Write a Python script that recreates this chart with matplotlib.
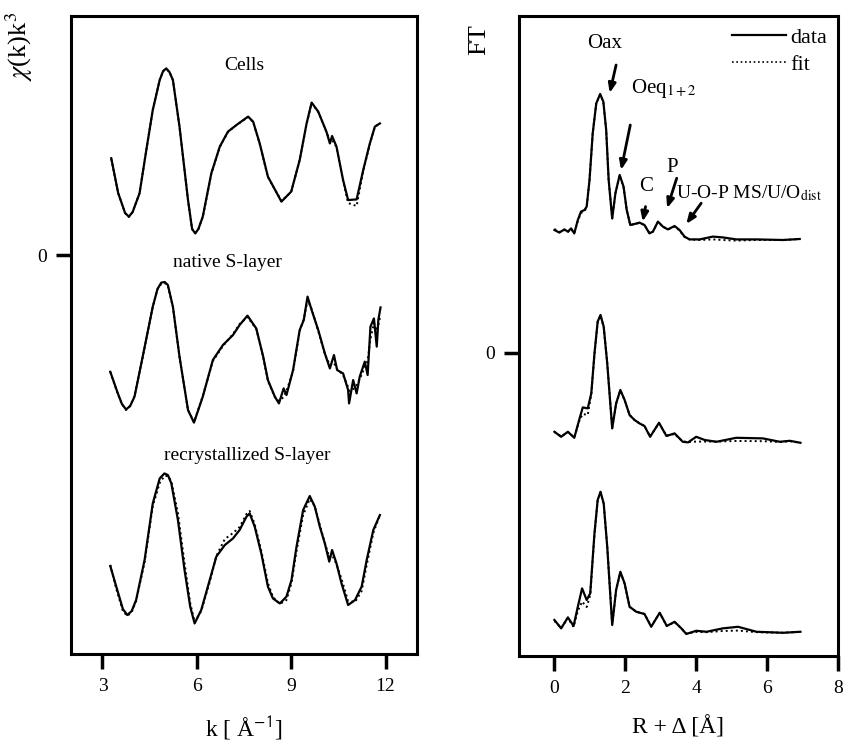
import matplotlib
matplotlib.use('Agg')
import matplotlib.pyplot as plt
from matplotlib.lines import Line2D

plt.rcParams['font.family'] = ['Liberation Serif', 'DejaVu Serif']
plt.rcParams['mathtext.fontset'] = 'stix'

# ---- EXAFS chi(k)k^3 (left) ----
k_cells = [3.28, 3.5, 3.72, 3.84, 3.96, 4.18, 4.4, 4.6, 4.82, 4.93, 5.03, 5.13, 5.24, 5.45, 5.72,
           5.85, 5.95, 6.05, 6.19, 6.46, 6.73, 6.99, 7.26, 7.63, 7.79, 8.0, 8.26, 8.69, 9.0, 9.27,
           9.49, 9.65, 9.86, 10.12, 10.23, 10.30, 10.44, 10.65, 10.81, 11.08, 11.29, 11.5, 11.66, 11.82]
chi_cells = [-0.16, -1.9, -2.9, -3.08, -2.85, -1.91, 0.3, 2.25, 3.75, 4.2, 4.33, 4.15, 3.75, 1.42, -2.25,
             -3.7, -3.92, -3.7, -3.08, -0.92, 0.42, 1.17, 1.5, 1.92, 1.67, 0.58, -1.08, -2.33, -1.83, -0.25,
             1.58, 2.62, 2.17, 1.17, 0.58, 0.95, 0.42, -1.25, -2.25, -2.22, -0.75, 0.58, 1.42, 1.58]
fit_cells = [-0.2, -1.9, -2.9, -3.1, -2.85, -1.9, 0.3, 2.25, 3.75, 4.2, 4.3, 4.15, 3.75, 1.4, -2.25,
             -3.7, -3.9, -3.7, -3.1, -0.95, 0.4, 1.15, 1.5, 1.9, 1.65, 0.55, -1.1, -2.3, -1.85, -0.25,
             1.55, 2.6, 2.15, 1.15, 0.7, 0.75, 0.4, -1.3, -2.4, -2.55, -0.8, 0.55, 1.4, 1.6]

k_native = [3.25, 3.49, 3.62, 3.75, 3.88, 4.02, 4.28, 4.6, 4.75, 4.87, 4.98, 5.08, 5.24, 5.45, 5.72,
            5.91, 6.19, 6.51, 6.83, 7.15, 7.36, 7.61, 7.89, 8.11, 8.26, 8.48, 8.61, 8.76, 8.85, 9.06,
            9.27, 9.40, 9.52, 9.65, 9.86, 10.07, 10.23, 10.36, 10.46, 10.65, 10.81, 10.84, 10.97, 11.08,
            11.18, 11.34, 11.43, 11.52, 11.63, 11.72, 11.77, 11.84]
chi_native = [-0.84, -1.92, -2.45, -2.72, -2.55, -2.08, -0.08, 2.42, 3.3, 3.62, 3.65, 3.5, 2.42, -0.08, -2.75,
              -3.38, -2.08, -0.25, 0.5, 1.0, 1.5, 1.97, 1.33, -0.08, -1.25, -2.08, -2.42, -1.67, -2.0, -0.75,
              1.25, 1.75, 2.92, 2.25, 1.25, 0.08, -0.67, 0.0, -0.75, -0.92, -1.75, -2.42, -1.25, -1.92,
              -1.08, -0.33, -1.0, 1.42, 1.83, 0.42, 1.75, 2.38]
fit_native = [-0.85, -1.95, -2.45, -2.75, -2.55, -2.05, -0.1, 2.4, 3.3, 3.55, 3.6, 3.45, 2.4, -0.1, -2.75,
              -3.35, -2.05, -0.3, 0.45, 1.05, 1.55, 1.9, 1.3, -0.1, -1.3, -2.1, -2.3, -2.1, -1.8, -0.8,
              1.2, 1.8, 2.75, 2.3, 1.2, 0.05, -0.5, -0.4, -0.7, -1.0, -1.6, -1.8, -1.7, -1.5,
              -1.2, -0.6, -0.3, 0.8, 1.6, 1.2, 1.5, 2.0]

k_recr = [3.25, 3.44, 3.65, 3.79, 3.93, 4.07, 4.34, 4.6, 4.82, 4.97, 5.08, 5.19, 5.4, 5.61, 5.79,
          5.93, 6.14, 6.41, 6.62, 6.89, 7.15, 7.36, 7.58, 7.68, 7.84, 8.05, 8.26, 8.42, 8.64, 8.85,
          9.01, 9.17, 9.38, 9.59, 9.75, 9.91, 10.07, 10.21, 10.30, 10.44, 10.6, 10.81, 11.03, 11.24,
          11.40, 11.61, 11.82]
chi_recr = [-1.05, -2.08, -3.2, -3.5, -3.3, -2.75, -0.75, 2.08, 3.33, 3.58, 3.5, 3.08, 1.25, -1.25, -3.08,
            -3.92, -3.25, -1.75, -0.58, 0.0, 0.33, 0.75, 1.42, 1.58, 0.92, -0.42, -2.08, -2.67, -2.92, -2.58,
            -1.75, -0.08, 1.75, 2.45, 1.92, 0.92, 0.08, -0.83, -0.25, -0.92, -1.92, -3.0, -2.75, -2.08,
            -0.75, 0.75, 1.5]
fit_recr = [-1.0, -2.2, -3.3, -3.55, -3.35, -2.8, -0.85, 1.95, 3.1, 3.45, 3.45, 3.2, 1.6, -0.9, -2.9,
            -3.85, -3.3, -1.85, -0.55, 0.3, 0.6, 0.9, 1.55, 1.7, 1.05, -0.3, -1.9, -2.6, -2.95, -2.75,
            -1.9, -0.3, 1.5, 2.3, 1.95, 1.0, 0.1, -0.6, -0.5, -0.95, -1.7, -2.8, -2.85, -2.3,
            -1.0, 0.6, 1.5]

chi_offsets = [5.0, -5.0, -14.5]
chi_labels = ['Cells', 'native S-layer', 'recrystallized S-layer']

# ---- Fourier transforms (right) ----
r_top = [0.0, 0.14, 0.28, 0.38, 0.47, 0.56, 0.66, 0.75, 0.85, 0.91, 0.99, 1.08, 1.18, 1.29, 1.38,
         1.46, 1.53, 1.63, 1.72, 1.84, 1.95, 2.04, 2.14, 2.26, 2.4, 2.54, 2.68, 2.78, 2.92, 3.06,
         3.2, 3.39, 3.53, 3.67, 3.81, 4.1, 4.47, 4.75, 5.13, 5.7, 6.45, 6.92]
ft_top = [0.55, 0.42, 0.58, 0.47, 0.63, 0.38, 1.05, 1.47, 1.55, 1.72, 3.05, 5.38, 6.88, 7.35, 6.97,
          5.55, 3.05, 1.13, 2.38, 3.3, 2.72, 1.55, 0.8, 0.85, 0.92, 0.8, 0.38, 0.47, 0.97, 0.72,
          0.58, 0.75, 0.55, 0.22, 0.08, 0.08, 0.22, 0.18, 0.08, 0.08, 0.05, 0.1]
fit_top = [0.6, 0.45, 0.55, 0.45, 0.6, 0.4, 1.0, 1.4, 1.5, 1.7, 3.05, 5.38, 6.88, 7.33, 6.95,
           5.55, 3.05, 1.13, 2.38, 3.28, 2.7, 1.55, 0.8, 0.85, 0.9, 0.8, 0.4, 0.47, 0.95, 0.72,
           0.58, 0.72, 0.52, 0.2, 0.08, 0.05, 0.08, 0.05, 0.02, 0.05, 0.05, 0.1]

r_mid = [0.0, 0.19, 0.38, 0.56, 0.71, 0.8, 0.94, 1.04, 1.13, 1.22, 1.3, 1.39, 1.49, 1.63, 1.74,
         1.86, 1.98, 2.12, 2.26, 2.4, 2.54, 2.7, 2.95, 3.16, 3.39, 3.62, 3.77, 4.0, 4.24, 4.57,
         5.13, 5.88, 6.36, 6.64, 6.94]
ft_mid = [0.61, 0.36, 0.61, 0.31, 1.28, 1.83, 1.78, 2.53, 4.53, 6.12, 6.45, 5.87, 4.03, 0.78, 2.03,
          2.7, 2.2, 1.45, 1.2, 1.03, 0.9, 0.36, 1.06, 0.4, 0.53, 0.11, 0.08, 0.36, 0.2, 0.11,
          0.31, 0.28, 0.11, 0.16, 0.06]
fit_mid = [0.6, 0.38, 0.6, 0.33, 1.2, 1.5, 1.45, 2.5, 4.5, 6.1, 6.42, 5.85, 4.03, 0.8, 2.0,
           2.68, 2.2, 1.45, 1.2, 1.03, 0.9, 0.38, 1.04, 0.42, 0.5, 0.13, 0.1, 0.12, 0.12, 0.12,
           0.15, 0.14, 0.1, 0.14, 0.06]

r_bot = [0.0, 0.19, 0.38, 0.54, 0.66, 0.78, 0.91, 1.01, 1.13, 1.22, 1.3, 1.39, 1.49, 1.63, 1.74,
         1.86, 1.98, 2.12, 2.31, 2.54, 2.73, 2.97, 3.17, 3.39, 3.58, 3.72, 4.0, 4.29, 4.75, 5.18,
         5.7, 6.45, 6.94]
ft_bot = [0.75, 0.33, 0.88, 0.45, 1.41, 2.33, 1.75, 2.08, 5.08, 6.75, 7.16, 6.58, 4.41, 0.5, 2.25,
          3.16, 2.58, 1.41, 1.16, 1.05, 0.41, 1.11, 0.45, 0.66, 0.33, 0.05, 0.21, 0.16, 0.33, 0.41,
          0.16, 0.11, 0.16]
fit_bot = [0.7, 0.35, 0.85, 0.4, 1.2, 1.67, 1.4, 2.0, 5.05, 6.72, 7.14, 6.56, 4.41, 0.52, 2.23,
           3.14, 2.56, 1.41, 1.16, 1.05, 0.43, 1.1, 0.45, 0.64, 0.33, 0.07, 0.15, 0.14, 0.2, 0.22,
           0.14, 0.11, 0.16]

ft_offsets = [5.6, -4.55, -14.1]

# peak assignments: (label, text position, arrow tail, arrow head) in R / FT units
peak_text = ['Oax', 'Oeq$_{1+2}$', 'C', 'P', 'U-O-P MS/U/O$_{\\rm dist}$']
peak_text_xy = [(1.41, 15.5), (2.15, 13.25), (2.59, 8.32), (3.33, 9.3), (3.42, 8.0)]
peak_text_ha = ['center', 'left', 'center', 'center', 'left']
peak_text_size = [15, 15, 15, 15, 14]
arrow_tail = [(1.74, 14.4), (2.14, 11.4), (2.57, 7.32), (3.45, 8.74), (4.14, 7.49)]
arrow_head = [(1.56, 13.0), (1.88, 9.15), (2.49, 6.57), (3.18, 7.24), (3.72, 6.45)]

fig = plt.figure(figsize=(8.44, 7.45), dpi=100)
ax1 = fig.add_axes([0.0841, 0.1221, 0.41, 0.8564])
ax2 = fig.add_axes([0.6149, 0.1195, 0.378, 0.859])

curves_k = [(k_cells, chi_cells, fit_cells), (k_native, chi_native, fit_native), (k_recr, chi_recr, fit_recr)]
for (kk, dd, ff), off in zip(curves_k, chi_offsets):
    ax1.plot(kk, [v + off for v in dd], color='k', lw=1.6)
    ax1.plot(kk, [v + off for v in ff], color='k', lw=1.4, ls=(0, (1, 1.6)))

label_pos = [(7.52, 9.5), (6.98, -0.35), (7.59, -10.0)]
for lab, (x, y) in zip(chi_labels, label_pos):
    ax1.text(x, y, lab, ha='center', va='center', fontsize=14)

ax1.set_xlim(2, 13)
ax1.set_ylim(-19.95, 11.95)
ax1.set_xticks([3, 6, 9, 12])
ax1.set_yticks([0])
ax1.set_xlabel('k [ Å$^{\\mathsf{-1}}$]', fontsize=17, labelpad=14)
ax1.set_ylabel('$\\chi$(k)k$^3$', fontsize=19)
ax1.yaxis.set_label_coords(-0.104, 0.953)

curves_r = [(r_top, ft_top, fit_top), (r_mid, ft_mid, fit_mid), (r_bot, ft_bot, fit_bot)]
for (rr, dd, ff), off in zip(curves_r, ft_offsets):
    ax2.plot(rr, [v + off for v in dd], color='k', lw=1.6)
    ax2.plot(rr, [v + off for v in ff], color='k', lw=1.4, ls=(0, (1, 1.6)))

for txt, xy, ha, fs in zip(peak_text, peak_text_xy, peak_text_ha, peak_text_size):
    ax2.text(xy[0], xy[1], txt, ha=ha, va='center', fontsize=fs)
for tail, head in zip(arrow_tail, arrow_head):
    ax2.annotate('', xy=head, xytext=tail,
                 arrowprops=dict(arrowstyle='-|>,head_length=0.55,head_width=0.22',
                                 color='k', lw=2.0, shrinkA=0, shrinkB=0))

handles = [Line2D([], [], color='k', lw=1.6), Line2D([], [], color='k', lw=1.2, ls=(0, (1, 1.6)))]
ax2.legend(handles, ['data', 'fit'], loc='upper right', frameon=False, fontsize=16,
           handlelength=2.4, handletextpad=0.2, labelspacing=0.3, borderaxespad=0.1,
           bbox_to_anchor=(1.0, 1.0))

ax2.set_xlim(-1, 8)
ax2.set_ylim(-15.15, 16.85)
ax2.set_xticks([0, 2, 4, 6, 8])
ax2.set_yticks([0])
ax2.set_xlabel('R + Δ [Å]', fontsize=17, labelpad=14)
ax2.set_ylabel('FT', fontsize=19)
ax2.yaxis.set_label_coords(-0.091, 0.9625)

for ax in (ax1, ax2):
    for s in ax.spines.values():
        s.set_linewidth(2.2)
    ax.tick_params(direction='out', length=11, width=2.5, labelsize=14, pad=6)

fig.savefig('out.png', dpi=100)
